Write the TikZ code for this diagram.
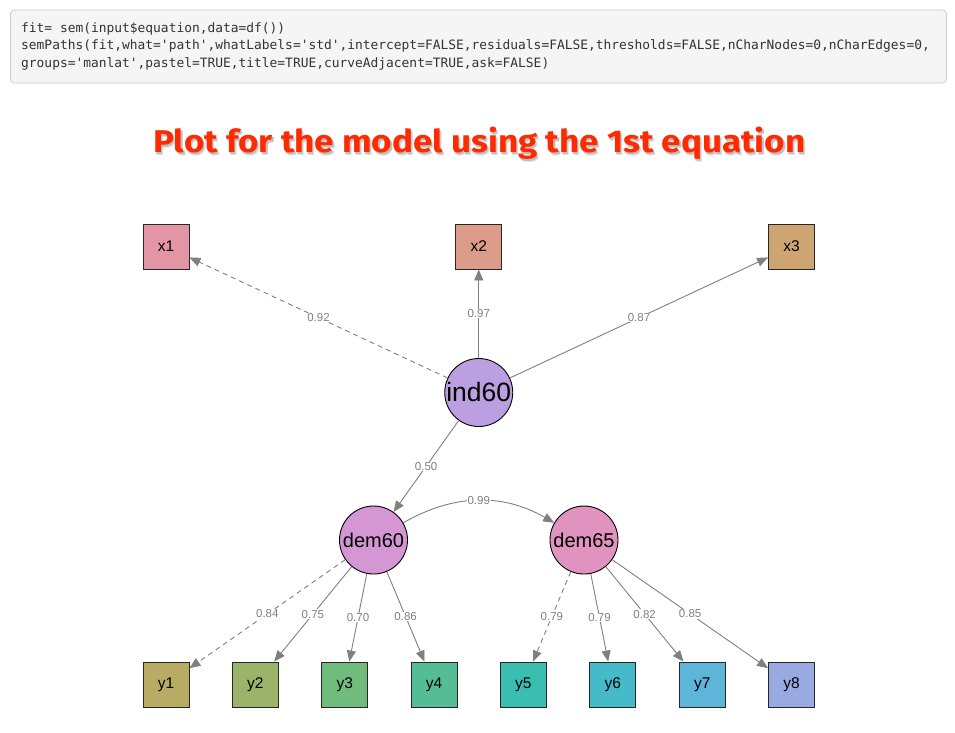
\documentclass[tikz,border=0pt]{standalone}
\usepackage{fontspec}
\setmainfont{Liberation Sans}
\setmonofont{DejaVu Sans Mono}
\newfontfamily\titlefont{Fira Sans}
\usetikzlibrary{arrows.meta}
\definecolor{edgegray}{HTML}{808080}
\definecolor{codebg}{HTML}{F5F5F5}
\definecolor{codeborder}{HTML}{CCCCCC}
\definecolor{codetext}{HTML}{333333}
\definecolor{titlered}{HTML}{FF2A00}
\definecolor{cx1}{HTML}{E495A5}
\definecolor{cx2}{HTML}{DD9B89}
\definecolor{cx3}{HTML}{CEA472}
\definecolor{cy1}{HTML}{B8AC65}
\definecolor{cy2}{HTML}{9CB469}
\definecolor{cy3}{HTML}{6FBC7C}
\definecolor{cy4}{HTML}{55BD96}
\definecolor{cy5}{HTML}{39BEB1}
\definecolor{cy6}{HTML}{45BAC8}
\definecolor{cy7}{HTML}{5DB6D9}
\definecolor{cy8}{HTML}{99A9E2}
\definecolor{cind}{HTML}{BC9FE0}
\definecolor{cdemA}{HTML}{D497D3}
\definecolor{cdemB}{HTML}{E193BF}
\newcommand{\titletext}{\resizebox{652pt}{25.5pt}{\titlefont\bfseries Plot for the model using the 1st equation}}
\begin{document}
\begin{tikzpicture}[x=1pt,y=-1pt,
  man/.style={draw=black!85, line width=0.9pt, minimum width=46pt, minimum height=45pt, inner sep=0pt, font=\fontsize{15.5}{16}\selectfont},
  lat/.style={circle, draw=black, line width=0.9pt, minimum size=68pt, inner sep=0pt},
  edge/.style={draw=edgegray, line width=0.9pt, -{Triangle[length=11pt,width=9pt]}},
  dashedge/.style={edge, dash pattern=on 5pt off 4pt},
  lbl/.style={fill=white, text=edgegray, inner sep=0.6pt, font=\fontsize{11.5}{12}\selectfont},
  codeline/.style={anchor=base west, inner sep=0pt, text=codetext, font=\ttfamily\fontsize{12.9}{15}\selectfont}]
\useasboundingbox[fill=white] (0,0) rectangle (955,732);

% code box
\path[fill=codebg, draw=codeborder, line width=0.8pt, rounded corners=4pt] (10.5,10) rectangle (946.5,83);
\node[codeline] (c1) at (21,32) {fit= sem(input\$equation,data=df())};
\node[codeline] (c2) at (21,49.5) {semPaths(fit,what='path',whatLabels='std',intercept=FALSE,residuals=FALSE,thresholds=FALSE,nCharNodes=0,nCharEdges=0,};
\node[codeline] (c3) at (21,67) {groups='manlat',pastel=TRUE,title=TRUE,curveAdjacent=TRUE,ask=FALSE)};

% title with soft shadow, as one text
\node[anchor=base west, inner sep=0pt] (title) at (153,152.3) {%
  \makebox[0pt][l]{\hspace{2pt}\raisebox{-2.7pt}{\color{black!12}\titletext}}%
  \makebox[0pt][l]{\hspace{1.3pt}\raisebox{-1.8pt}{\color{black!25}\titletext}}%
  {\color{titlered}\titletext}};

% manifest nodes
\node[man, fill=cx1] (x1) at (166,246.5) {x1};
\node[man, fill=cx2] (x2) at (478.75,246.5) {x2};
\node[man, fill=cx3] (x3) at (791.5,246.5) {x3};
\node[man, fill=cy1] (y1) at (166,684.5) {y1};
\node[man, fill=cy2] (y2) at (255.4,684.5) {y2};
\node[man, fill=cy3] (y3) at (344.7,684.5) {y3};
\node[man, fill=cy4] (y4) at (434.1,684.5) {y4};
\node[man, fill=cy5] (y5) at (523.4,684.5) {y5};
\node[man, fill=cy6] (y6) at (612.8,684.5) {y6};
\node[man, fill=cy7] (y7) at (702.2,684.5) {y7};
\node[man, fill=cy8] (y8) at (791.5,684.5) {y8};

% latent nodes
\node[lat, fill=cind, font=\fontsize{26.5}{27}\selectfont] (ind60) at (478.75,392.5) {ind60};
\node[lat, fill=cdemA, font=\fontsize{20}{21}\selectfont] (dem60) at (373.5,540) {dem60};
\node[lat, fill=cdemB, font=\fontsize{20}{21}\selectfont] (dem65) at (584,540) {dem65};

% edges
\draw[dashedge] (ind60) -- node[lbl] {0.92} (x1);
\draw[edge] (ind60) -- node[lbl] {0.97} (x2);
\draw[edge] (ind60) -- node[lbl] {0.87} (x3);
\draw[edge] (ind60) -- node[lbl] {0.50} (dem60);
\draw[edge] (dem60) to[bend left=30] node[lbl] {0.99} (dem65);
\draw[dashedge] (dem60) -- node[lbl] {0.84} (y1);
\draw[edge] (dem60) -- node[lbl] {0.75} (y2);
\draw[edge] (dem60) -- node[lbl] {0.70} (y3);
\draw[edge] (dem60) -- node[lbl] {0.86} (y4);
\draw[dashedge] (dem65) -- node[lbl] {0.79} (y5);
\draw[edge] (dem65) -- node[lbl] {0.79} (y6);
\draw[edge] (dem65) -- node[lbl] {0.82} (y7);
\draw[edge] (dem65) -- node[lbl] {0.85} (y8);
\end{tikzpicture}
\end{document}
